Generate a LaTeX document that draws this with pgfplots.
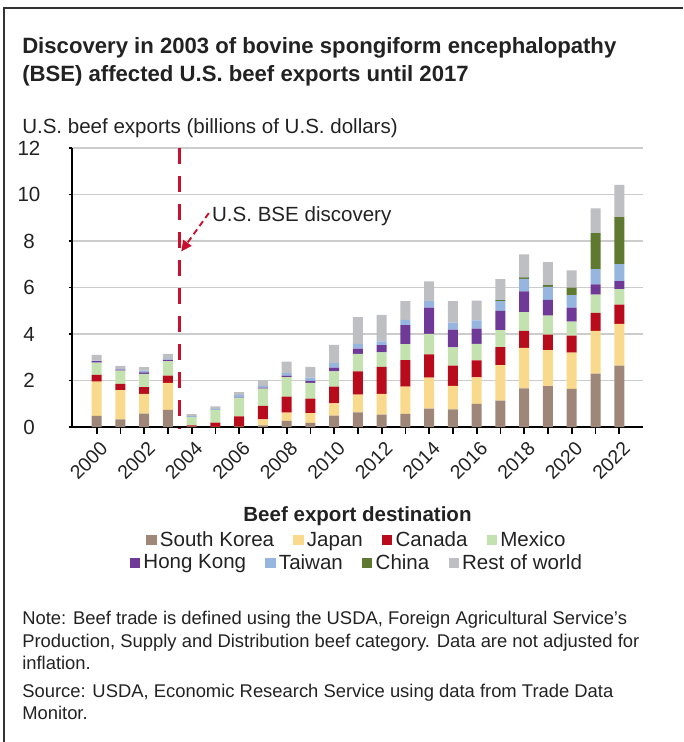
\documentclass[border=0pt]{standalone}
\usepackage{pgfplots}
\pgfplotsset{compat=1.18}
\usepackage{pgfplotstable}
\usepackage{fontspec}
\setmainfont{Liberation Sans}
\usetikzlibrary{arrows.meta}

\definecolor{cSK}{HTML}{9E8779}
\definecolor{cJP}{HTML}{F9D98C}
\definecolor{cCA}{HTML}{B80C1C}
\definecolor{cMX}{HTML}{C4E2B0}
\definecolor{cHK}{HTML}{6F3998}
\definecolor{cTW}{HTML}{96B5DF}
\definecolor{cCN}{HTML}{5F7A30}
\definecolor{cRW}{HTML}{BEBFC3}
\definecolor{bse}{HTML}{C8102E}
\definecolor{frame}{HTML}{333333}
\definecolor{txt}{HTML}{222222}

% U.S. beef exports by destination, billions of U.S. dollars
\pgfplotstableread{
year SK   JP   CA   MX   HK   TW   CN   RW
2000 0.48 1.47 0.29 0.53 0.06 0.03 0.00 0.24
2001 0.33 1.26 0.27 0.56 0.05 0.03 0.00 0.13
2002 0.58 0.85 0.29 0.57 0.06 0.07 0.00 0.16
2003 0.74 1.16 0.31 0.62 0.06 0.02 0.00 0.24
2004 0.01 0.01 0.05 0.36 0.00 0.04 0.00 0.08
2005 0.00 0.01 0.18 0.55 0.00 0.04 0.00 0.11
2006 0.00 0.02 0.44 0.79 0.01 0.11 0.00 0.13
2007 0.07 0.26 0.58 0.74 0.04 0.08 0.00 0.24
2008 0.26 0.36 0.69 0.84 0.06 0.11 0.00 0.49
2009 0.18 0.42 0.62 0.68 0.08 0.14 0.00 0.47
2010 0.49 0.53 0.72 0.65 0.16 0.20 0.00 0.78
2011 0.63 0.76 1.00 0.76 0.22 0.21 0.00 1.15
2012 0.53 0.90 1.16 0.62 0.31 0.16 0.00 1.14
2013 0.56 1.18 1.14 0.68 0.82 0.23 0.00 0.80
2014 0.79 1.33 1.00 0.89 1.13 0.27 0.00 0.85
2015 0.76 1.01 0.87 0.79 0.76 0.30 0.00 0.92
2016 1.00 1.14 0.73 0.71 0.65 0.36 0.00 0.85
2017 1.14 1.52 0.78 0.73 0.83 0.41 0.05 0.90
2018 1.66 1.74 0.73 0.81 0.89 0.54 0.07 0.99
2019 1.76 1.55 0.66 0.82 0.68 0.56 0.07 0.99
2020 1.64 1.56 0.73 0.60 0.61 0.53 0.32 0.75
2021 2.30 1.84 0.77 0.78 0.45 0.65 1.55 1.06
2022 2.64 1.80 0.82 0.67 0.34 0.74 2.02 1.38
}\exports

\newcommand{\fbody}{\fontsize{15.4}{18}\selectfont}
\newcommand{\ftick}{\fontsize{14.6}{17}\selectfont}
\newcommand{\fnote}{\fontsize{13.8}{17}\selectfont}
\newcommand{\ftitle}{\bfseries\fontsize{16.6}{20}\selectfont}

\pgfplotsset{
  destlegend/.style={
    legend columns=4,
    legend cell align=left,
    legend style={draw=none, fill=none, font=\fbody, text=txt,
      inner sep=0pt, anchor=center,
      nodes={inner sep=2.4pt},
      /tikz/every even column/.append style={column sep=12pt}},
    legend image code/.code={\fill[##1] (0pt,-3.9pt) rectangle (7.8pt,3.9pt);},
  },
}

\begin{document}
\begin{tikzpicture}[x=0.75pt,y=-0.75pt]
\path[use as bounding box] (0,0) rectangle (683,742);
\draw[line width=2.2pt, frame] (4,742) -- (4,8) -- (683,8);

\node[anchor=base west, inner sep=0pt, text=txt, font=\ftitle] at (22,54)
  {Discovery in 2003 of bovine spongiform encephalopathy};
\node[anchor=base west, inner sep=0pt, text=txt, font=\ftitle] at (22,82)
  {(BSE) affected U.S. beef exports until 2017};
\node[anchor=base west, inner sep=0pt, text=txt, font=\fbody] at (22,133)
  {U.S. beef exports (billions of U.S. dollars)};

\begin{axis}[
  at={(54pt,-320.25pt)}, anchor=south west,
  width=428.25pt, height=209.25pt, scale only axis,
  ybar stacked, bar width=7.5pt,
  xmin=1998.96, xmax=2023, ymin=0, ymax=12,
  clip=false,
  axis x line*=bottom, axis y line*=left,
  axis line style={line width=1.5pt, black, -},
  ytick={0,2,...,12},
  xtick={2000,2002,...,2022},
  minor xtick={2001,2003,...,2021},
  x tick label style={/pgf/number format/1000 sep={}},
  tick align=outside,
  xtick style={line width=1.3pt, black, /pgfplots/major tick length=5pt,
    /pgfplots/minor tick length=5pt},
  ytick style={line width=1.1pt, black, /pgfplots/major tick length=2.5pt},
  ymajorgrids,
  grid style={line width=0.8pt, color=black!20},
  /pgf/number format/assume math mode=true,
  yticklabel style={font=\fbody, text=txt, anchor=center, xshift=-28pt},
  xticklabel style={font=\ftick, text=txt, xshift=-6pt, yshift=-21pt, rotate=45, anchor=center},
  destlegend,
  legend style={at={(0.5,-0.405)}},
]
\addplot[fill=cSK, draw=none] table[x=year, y=SK] {\exports};
\addlegendentry{South Korea}
\addplot[fill=cJP, draw=none] table[x=year, y=JP] {\exports};
\addlegendentry{Japan}
\addplot[fill=cCA, draw=none] table[x=year, y=CA] {\exports};
\addlegendentry{Canada}
\addplot[fill=cMX, draw=none] table[x=year, y=MX] {\exports};
\addlegendentry{Mexico}
\addplot[fill=cHK, draw=none] table[x=year, y=HK] {\exports};
\addplot[fill=cTW, draw=none] table[x=year, y=TW] {\exports};
\addplot[fill=cCN, draw=none] table[x=year, y=CN] {\exports};
\addplot[fill=cRW, draw=none] table[x=year, y=RW] {\exports};

% BSE discovery marker
\draw[bse, line width=2.2pt, dash pattern=on 12pt off 9pt]
  (axis cs:2003.5,12) -- (axis cs:2003.5,-0.1);
\draw[bse, line width=1.4pt, dash pattern=on 4.5pt off 3pt,
      -{Triangle[length=8pt, width=7.5pt]}]
  (axis cs:2004.72,9.2) -- (axis cs:2003.56,7.55);
\node[anchor=base west, inner sep=0pt, text=txt, font=\fbody]
  at (axis cs:2004.85,8.82) {U.S. BSE discovery};
\end{axis}

% second legend row
\begin{axis}[
  at={(54pt,-320.25pt)}, anchor=south west,
  width=428.25pt, height=209.25pt, scale only axis,
  hide axis, xmin=0, xmax=1, ymin=0, ymax=1,
  destlegend,
  legend style={at={(0.5,-0.487)}},
]
\addlegendimage{fill=cHK, draw=none}
\addlegendentry{Hong Kong}
\addlegendimage{fill=cTW, draw=none}
\addlegendentry{Taiwan}
\addlegendimage{fill=cCN, draw=none}
\addlegendentry{China}
\addlegendimage{fill=cRW, draw=none}
\addlegendentry{Rest of world}
\end{axis}

\node[anchor=base, inner sep=0pt, text=txt, font=\bfseries\fbody] at (357.5,521)
  {Beef export destination};

\node[anchor=base west, inner sep=0pt, text=txt, font=\fnote] at (22,624)
  {Note: Beef trade is defined using the USDA, Foreign Agricultural Service’s};
\node[anchor=base west, inner sep=0pt, text=txt, font=\fnote] at (22,647)
  {Production, Supply and Distribution beef category. Data are not adjusted for};
\node[anchor=base west, inner sep=0pt, text=txt, font=\fnote] at (22,669)
  {inflation.};
\node[anchor=base west, inner sep=0pt, text=txt, font=\fnote] at (22,697)
  {Source: USDA, Economic Research Service using data from Trade Data};
\node[anchor=base west, inner sep=0pt, text=txt, font=\fnote] at (22,719)
  {Monitor.};
\end{tikzpicture}
\end{document}
